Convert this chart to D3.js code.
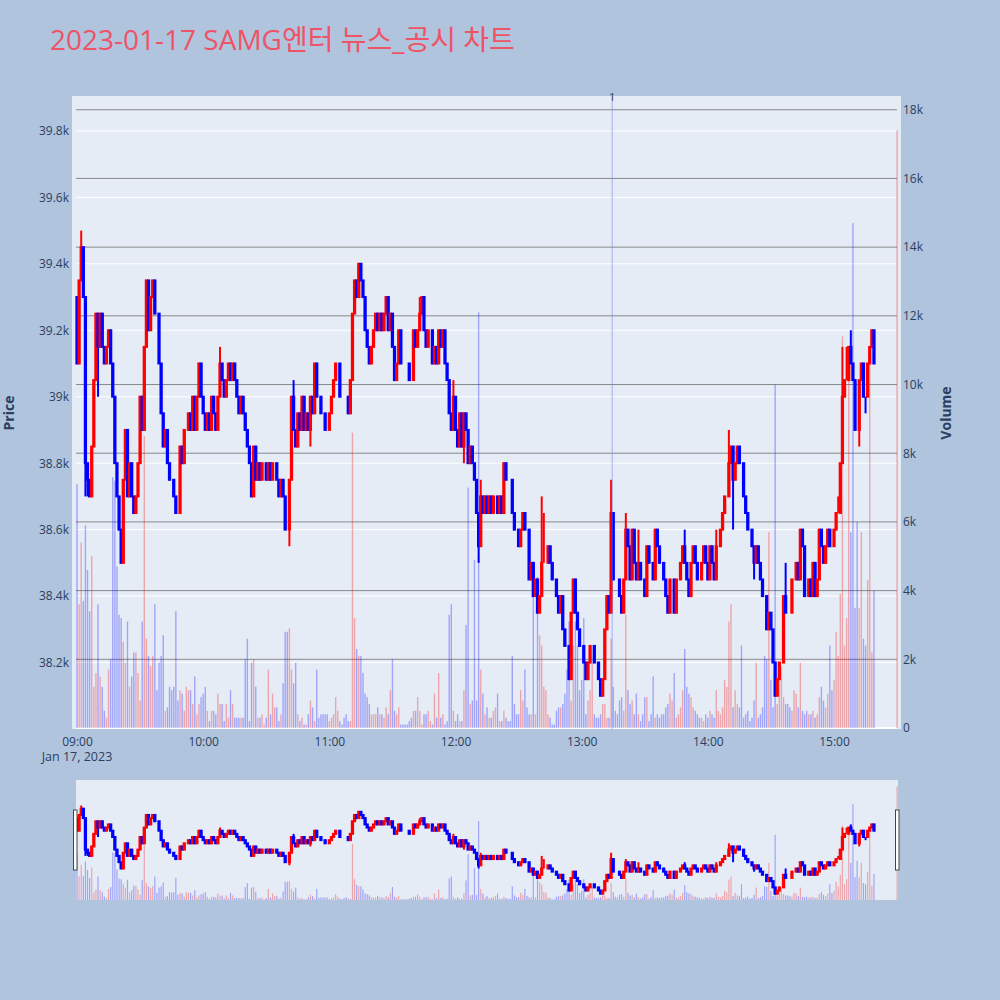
<!DOCTYPE html>
<html>
<head>
<meta charset="utf-8">
<script src="https://cdn.jsdelivr.net/npm/d3@7/dist/d3.min.js"></script>
<style>
    body { margin: 0; background: #B0C4DE; }
    svg text { font-family: "Open Sans", "Noto Sans CJK KR", sans-serif; }
</style>
</head>
<body>
<div id="chart"></div>
<script>
// ---- data ----
var chartTitle = "2023-01-17 SAMG엔터 뉴스_공시 차트";
var tradeDay = "2023-01-17";
var firstOpen = 39300;

// one close per minute from 09:00 to 15:19 (open = previous close)
var closes0900 = [
    39100, 39350, 39450, 39300, 38800, 38750, 38700, 38850, 39050, 39250,
    39150, 39250, 39150, 39100, 39150, 39200, 39100, 39000, 38800, 38700,
    38600, 38500, 38750, 38900, 38700, 38800, 38700, 38650, 38700, 38800,
    39000, 38900, 39150, 39350, 39200, 39300, 39350, 39250, 39250, 39100,
    38950, 38850, 38900, 38800, 38750, 38750, 38700, 38650, 38650, 38850
];
var closes0950 = [
    38800, 38900, 38900, 38950, 38900, 39000, 38900, 39000, 39100, 39000,
    38950, 38900, 38950, 38900, 39000, 38950, 38900, 39000, 39100, 39050,
    39000, 39050, 39100, 39050, 39100, 39050, 39000, 38950, 39000, 38950,
    38900, 38850, 38800, 38700, 38850, 38750, 38800, 38750, 38800, 38800,
    38750, 38800, 38750, 38800, 38800, 38750, 38700, 38750, 38700, 38600
];
var closes1040 = [
    38600, 38750, 39000, 38900, 38850, 38950, 38900, 39000, 38900, 38950,
    38900, 39000, 38950, 39100, 39000, 39000, 38950, 38950, 38900, 38900,
    38950, 39000, 39050, 39100, 39100, 39000, 39000, 39000, 39000, 38950,
    39050, 39250, 39350, 39300, 39400, 39350, 39300, 39200, 39150, 39100,
    39150, 39200, 39250, 39200, 39250, 39200, 39250, 39300, 39200, 39250
];
var closes1130 = [
    39150, 39050, 39100, 39200, 39100, 39100, 39100, 39100, 39050, 39050,
    39200, 39150, 39200, 39250, 39300, 39200, 39150, 39200, 39200, 39100,
    39150, 39100, 39200, 39150, 39200, 39100, 39050, 38950, 38900, 39000,
    38900, 38850, 38950, 38850, 38950, 38900, 38800, 38850, 38800, 38750,
    38650, 38550, 38700, 38650, 38700, 38650, 38700, 38650, 38700, 38700
];
var closes1220 = [
    38650, 38700, 38650, 38800, 38750, 38750, 38750, 38650, 38600, 38600,
    38550, 38600, 38650, 38600, 38600, 38450, 38500, 38400, 38450, 38350,
    38400, 38500, 38500, 38500, 38550, 38500, 38450, 38450, 38400, 38350,
    38400, 38300, 38250, 38250, 38150, 38350, 38450, 38350, 38300, 38250,
    38250, 38200, 38150, 38200, 38250, 38250, 38200, 38200, 38150, 38100
];
var closes1310 = [
    38150, 38300, 38400, 38350, 38650, 38450, 38450, 38450, 38400, 38350,
    38450, 38600, 38550, 38450, 38600, 38500, 38450, 38500, 38450, 38450,
    38400, 38550, 38500, 38500, 38450, 38600, 38550, 38500, 38500, 38450,
    38400, 38350, 38450, 38450, 38350, 38450, 38450, 38500, 38550, 38500,
    38450, 38400, 38500, 38550, 38500, 38450, 38450, 38500, 38550, 38500
];
var closes1400 = [
    38450, 38550, 38500, 38450, 38550, 38550, 38600, 38650, 38700, 38700,
    38800, 38850, 38750, 38800, 38850, 38800, 38800, 38700, 38650, 38600,
    38600, 38550, 38500, 38550, 38500, 38450, 38400, 38400, 38300, 38350,
    38300, 38200, 38100, 38150, 38200, 38200, 38400, 38350, 38350, 38350,
    38450, 38450, 38500, 38450, 38600, 38550, 38400, 38400, 38450, 38400
];
var closes1450 = [
    38500, 38400, 38450, 38600, 38550, 38500, 38550, 38600, 38550, 38550,
    38600, 38650, 38650, 38800, 39000, 39050, 39050, 39150, 39100, 39050,
    38900, 38900, 39050, 39100, 39000, 39000, 39100, 39150, 39200, 39100
];

// volume per minute, same minutes as the closes
var volumes0900 = [
    7100, 3600, 5400, 3700, 5900, 4600, 3400, 5000, 1200, 1600,
    3600, 1500, 1200, 500, 300, 1700, 2000, 7300, 7200, 4700,
    3300, 3200, 2500, 1900, 3100, 1200, 1500, 2200, 2200, 1600,
    800, 3100, 8500, 2600, 2100, 1800, 2100, 3600, 1100, 1900,
    2100, 2700, 500, 600, 1200, 1100, 1200, 3400, 800, 1100
];
var volumes0950 = [
    1000, 500, 1200, 1100, 1100, 700, 1500, 400, 700, 900,
    1000, 1200, 500, 200, 500, 500, 400, 1000, 700, 700,
    200, 700, 300, 1100, 700, 300, 300, 300, 300, 300,
    2000, 2600, 200, 1900, 2000, 1200, 300, 300, 400, 100,
    300, 1700, 400, 1000, 600, 600, 200, 400, 1300, 2800
];
var volumes1040 = [
    2800, 2900, 1700, 1300, 1900, 400, 200, 300, 100, 100,
    400, 800, 600, 200, 1700, 300, 400, 400, 400, 400,
    200, 300, 400, 900, 500, 200, 100, 300, 400, 200,
    200, 8600, 3200, 2300, 2100, 2100, 1600, 1000, 900, 700,
    400, 400, 400, 600, 400, 400, 300, 600, 400, 1100
];
var volumes1130 = [
    2000, 500, 400, 600, 100, 100, 100, 100, 200, 300,
    500, 500, 900, 500, 100, 400, 400, 500, 200, 100,
    1000, 300, 1600, 300, 400, 100, 200, 3300, 3600, 500,
    200, 400, 200, 200, 1100, 3000, 7000, 700, 800, 4900,
    800, 12100, 1700, 1000, 400, 600, 300, 300, 500, 600
];
var volumes1220 = [
    1000, 200, 200, 500, 300, 200, 200, 2100, 700, 400,
    400, 1100, 800, 1700, 600, 400, 400, 4400, 400, 4400,
    2700, 2400, 1200, 1100, 400, 300, 100, 100, 500, 600,
    600, 700, 1000, 1700, 3100, 800, 2400, 3100, 2400, 1100,
    1400, 3200, 400, 800, 1100, 1900, 400, 300, 300, 400
];
var volumes1310 = [
    700, 700, 300, 300, 2600, 1200, 500, 400, 800, 900,
    500, 3300, 1100, 700, 800, 400, 1000, 400, 200, 400,
    900, 900, 200, 400, 1500, 300, 400, 300, 400, 400,
    600, 700, 1000, 800, 1600, 300, 400, 600, 1100, 2300,
    1200, 1000, 900, 600, 500, 400, 300, 300, 200, 400
];
var volumes1400 = [
    300, 500, 400, 300, 1100, 500, 400, 600, 1400, 1200,
    3100, 3600, 600, 1100, 700, 600, 2400, 300, 400, 500,
    200, 300, 800, 1900, 300, 400, 600, 2100, 2000, 5700,
    1400, 600, 10000, 700, 1600, 1800, 900, 700, 700, 600,
    500, 1100, 1000, 600, 1900, 500, 400, 500, 400, 400
];
var volumes1450 = [
    500, 300, 400, 900, 1200, 800, 600, 1000, 2400, 1100,
    1400, 2800, 2100, 3900, 11400, 2400, 3200, 11000, 5700, 14700,
    3500, 6000, 3500, 5700, 2600, 2400, 4300, 10700, 2200, 4000
];

// wicks beyond the body: [minute index, price]
var wickHighs = [[2, 39500], [68, 39150], [103, 39050], [163, 39300], [179, 39050],
    [192, 38750], [221, 38700], [222, 38650], [254, 38750], [261, 38650], [267, 38600],
    [289, 38600], [304, 38600], [310, 38900], [337, 38500], [353, 38600], [362, 38700],
    [364, 39150], [366, 39150], [368, 39200]];
var wickLows = [[4, 38700], [5, 38700], [10, 39000], [101, 38550], [111, 38850],
    [184, 38800], [191, 38500], [215, 38450], [312, 38600], [322, 38450],
    [372, 38850], [375, 38950]];

// closing auction
var auctionTime = "15:30";
var auctionPrice = 39150;
var auctionVolume = 17400;

// news marker
var newsTimes = ["13:14:30"];
var newsLabels = ["1"];

var priceTicks = [38200, 38400, 38600, 38800, 39000, 39200, 39400, 39600, 39800];
var volumeTicks = [0, 2000, 4000, 6000, 8000, 10000, 12000, 14000, 16000, 18000];
var timeTicks = ["09:00", "10:00", "11:00", "12:00", "13:00", "14:00", "15:00"];

// ---- layout ----
const width = 1000;
const height = 1000;
const plotLeft = 72, plotRight = 901, plotTop = 96, plotBottom = 729;
const gridLeft = 76, gridRight = 897;
const sliderTop = 780, sliderBottom = 900;
const increasing_color = "#FF0000";
const decreasing_color = "#0000FF";
const font_color = "#2a3f5f";

var parseMinute = d3.timeParse("%Y-%m-%d %H:%M");
var parseSecond = d3.timeParse("%Y-%m-%d %H:%M:%S");

var closes = [].concat(closes0900, closes0950, closes1040, closes1130, closes1220, closes1310, closes1400, closes1450);
var volumes = [].concat(volumes0900, volumes0950, volumes1040, volumes1130, volumes1220, volumes1310, volumes1400, volumes1450);

var startTime = parseMinute(tradeDay + " 09:00");

// build the candle table
var candles = closes.map(function (c, i) {
    var o = i === 0 ? firstOpen : closes[i - 1];
    return {
        time: d3.timeMinute.offset(startTime, i),
        open: o,
        close: c,
        high: Math.max(o, c),
        low: Math.min(o, c),
        volume: volumes[i]
    };
});
wickHighs.forEach(function (w) {
    candles[w[0]].high = Math.max(candles[w[0]].high, w[1]);
});
wickLows.forEach(function (w) {
    candles[w[0]].low = Math.min(candles[w[0]].low, w[1]);
});
candles.push({
    time: parseMinute(tradeDay + " " + auctionTime),
    open: auctionPrice, close: auctionPrice, high: auctionPrice, low: auctionPrice,
    volume: auctionVolume
});

// direction: close vs open, ties follow previous close / previous direction
var prevDir = 1;
candles.forEach(function (d, i) {
    var pc = i > 0 ? candles[i - 1].close : d.open;
    if (d.close > d.open) d.dir = 1;
    else if (d.close < d.open) d.dir = -1;
    else if (d.close > pc) d.dir = 1;
    else if (d.close < pc) d.dir = -1;
    else d.dir = prevDir;
    prevDir = d.dir;
});

// ---- scales ----
var x = d3.scaleTime()
    .domain([parseSecond(tradeDay + " 08:57:37"), parseSecond(tradeDay + " 15:30:26")])
    .range([plotLeft, 898]);
var y = d3.scaleLinear().domain([38000, 39905]).range([plotBottom, plotTop]);
var yVol = d3.scaleLinear().domain([0, 18400]).range([728, plotTop]);
var ySlider = d3.scaleLinear().domain([38000, 39905]).range([sliderBottom, sliderTop]);
var yVolSlider = d3.scaleLinear().domain([0, 18400]).range([sliderBottom, sliderTop]);

var step = x(d3.timeMinute.offset(startTime, 1)) - x(startTime);

var svg = d3.select("#chart").append("svg")
    .attr("width", width)
    .attr("height", height);

svg.append("rect")
    .attr("width", width)
    .attr("height", height)
    .attr("fill", "#B0C4DE");

var defs = svg.append("defs");
defs.append("clipPath").attr("id", "clipMain").append("rect")
    .attr("x", plotLeft).attr("y", plotTop)
    .attr("width", plotRight - plotLeft).attr("height", plotBottom - plotTop);
defs.append("clipPath").attr("id", "clipSlider").append("rect")
    .attr("x", gridLeft).attr("y", sliderTop)
    .attr("width", 898 - gridLeft).attr("height", sliderBottom - sliderTop);

// Title
svg.append("text")
    .attr("x", 50)
    .attr("y", 50)
    .attr("fill", "#EE5366")
    .style("font-size", "28px")
    .text(chartTitle);

// Plot background
svg.append("rect")
    .attr("x", plotLeft)
    .attr("y", plotTop)
    .attr("width", plotRight - plotLeft)
    .attr("height", plotBottom - plotTop)
    .attr("fill", "#E5ECF6");

// price grid (white) and volume grid (gray)
svg.append("g").selectAll("line")
    .data(priceTicks)
    .enter().append("line")
    .attr("x1", gridLeft).attr("x2", gridRight)
    .attr("y1", function (d) { return y(d); })
    .attr("y2", function (d) { return y(d); })
    .attr("stroke", "#ffffff")
    .attr("stroke-width", 1);

svg.append("g").selectAll("line")
    .data(volumeTicks.filter(function (d) { return d > 0; }))
    .enter().append("line")
    .attr("x1", gridLeft).attr("x2", gridRight)
    .attr("y1", function (d) { return yVol(d); })
    .attr("y2", function (d) { return yVol(d); })
    .attr("stroke", "#8a8a8a")
    .attr("stroke-width", 1);

// volume zero line
svg.append("line")
    .attr("x1", gridLeft).attr("x2", gridRight)
    .attr("y1", yVol(0)).attr("y2", yVol(0))
    .attr("stroke", "#ffffff")
    .attr("stroke-width", 2);

function candleColor(d) {
    return d.dir > 0 ? increasing_color : decreasing_color;
}

// candles + volume, used for the main plot and the range slider
function drawSeries(g, yPrice, yVolume, lineWidth, volWidth) {
    var halfBox = step * 0.3;

    g.selectAll(".wick")
        .data(candles)
        .enter().append("line")
        .attr("class", "wick")
        .attr("x1", function (d) { return x(d.time); })
        .attr("x2", function (d) { return x(d.time); })
        .attr("y1", function (d) { return yPrice(d.high); })
        .attr("y2", function (d) { return yPrice(d.low); })
        .attr("stroke", candleColor)
        .attr("stroke-width", lineWidth);

    g.selectAll(".box")
        .data(candles)
        .enter().append("rect")
        .attr("class", "box")
        .attr("x", function (d) { return x(d.time) - halfBox; })
        .attr("width", halfBox * 2)
        .attr("y", function (d) { return yPrice(Math.max(d.open, d.close)); })
        .attr("height", function (d) {
            return Math.abs(yPrice(d.open) - yPrice(d.close));
        })
        .attr("fill", candleColor)
        .attr("stroke", candleColor)
        .attr("stroke-width", lineWidth);

    g.selectAll(".vol")
        .data(candles)
        .enter().append("rect")
        .attr("class", "vol")
        .attr("x", function (d) { return x(d.time) - volWidth / 2; })
        .attr("width", volWidth)
        .attr("y", function (d) { return yVolume(d.volume); })
        .attr("height", function (d) { return yVolume(0) - yVolume(d.volume); })
        .attr("fill", candleColor)
        .attr("fill-opacity", 0.3);
}

var main = svg.append("g").attr("clip-path", "url(#clipMain)");
drawSeries(main, y, yVol, 2, 1.4);

// news markers
var news = svg.append("g");
news.selectAll("line")
    .data(newsTimes)
    .enter().append("line")
    .attr("x1", function (d) { return x(parseSecond(tradeDay + " " + d)); })
    .attr("x2", function (d) { return x(parseSecond(tradeDay + " " + d)); })
    .attr("y1", plotTop)
    .attr("y2", plotBottom)
    .attr("stroke", "#6f8cf0")
    .attr("stroke-opacity", 0.6)
    .attr("stroke-width", 1);
news.selectAll("text")
    .data(newsTimes)
    .enter().append("text")
    .attr("x", function (d) { return x(parseSecond(tradeDay + " " + d)); })
    .attr("y", 101)
    .attr("text-anchor", "middle")
    .attr("fill", font_color)
    .style("font-size", "11px")
    .text(function (d, i) { return newsLabels[i]; });

// Axes
var leftAxis = svg.append("g")
    .attr("transform", "translate(" + plotLeft + ",0)")
    .call(d3.axisLeft(y)
        .tickValues(priceTicks)
        .tickSize(0)
        .tickPadding(3)
        .tickFormat(function (d) { return d3.format(".3~f")(d / 1000) + "k"; }));

var rightAxis = svg.append("g")
    .attr("transform", "translate(" + plotRight + ",0)")
    .call(d3.axisRight(yVol)
        .tickValues(volumeTicks)
        .tickSize(0)
        .tickPadding(2)
        .tickFormat(function (d) { return d === 0 ? "0" : (d / 1000) + "k"; }));

var timeFormat = d3.timeFormat("%H:%M");
var bottomAxis = svg.append("g")
    .attr("transform", "translate(0," + plotBottom + ")")
    .call(d3.axisBottom(x)
        .tickValues(timeTicks.map(function (t) { return parseMinute(tradeDay + " " + t); }))
        .tickSize(0)
        .tickPadding(8)
        .tickFormat(timeFormat));

[leftAxis, rightAxis, bottomAxis].forEach(function (a) {
    a.select(".domain").remove();
    a.selectAll("text")
        .attr("fill", font_color)
        .style("font-size", "12px")
        .style("font-family", "'Open Sans', sans-serif");
});

svg.append("text")
    .attr("x", x(startTime))
    .attr("y", 761)
    .attr("text-anchor", "middle")
    .attr("fill", font_color)
    .style("font-size", "12.5px")
    .text(d3.timeFormat("%b %-d, %Y")(startTime));

// Axis titles
svg.append("text")
    .attr("transform", "translate(14,413) rotate(-90)")
    .attr("text-anchor", "middle")
    .attr("fill", font_color)
    .style("font-size", "14px")
    .style("font-weight", "bold")
    .text("Price");

svg.append("text")
    .attr("transform", "translate(951,413) rotate(-90)")
    .attr("text-anchor", "middle")
    .attr("fill", font_color)
    .style("font-size", "14px")
    .style("font-weight", "bold")
    .text("Volume");

// Range slider
svg.append("rect")
    .attr("x", gridLeft)
    .attr("y", sliderTop)
    .attr("width", 898 - gridLeft)
    .attr("height", sliderBottom - sliderTop)
    .attr("fill", "#E5ECF6");

var slider = svg.append("g").attr("clip-path", "url(#clipSlider)");
drawSeries(slider, ySlider, yVolSlider, 2, 1.2);

// slider grabbers
svg.append("g").selectAll("rect")
    .data([73.5, 895.5])
    .enter().append("rect")
    .attr("x", function (d) { return d; })
    .attr("y", 810)
    .attr("width", 3.5)
    .attr("height", 60)
    .attr("fill", "#ffffff")
    .attr("stroke", "#444")
    .attr("stroke-width", 1);
</script>
</body>
</html>
